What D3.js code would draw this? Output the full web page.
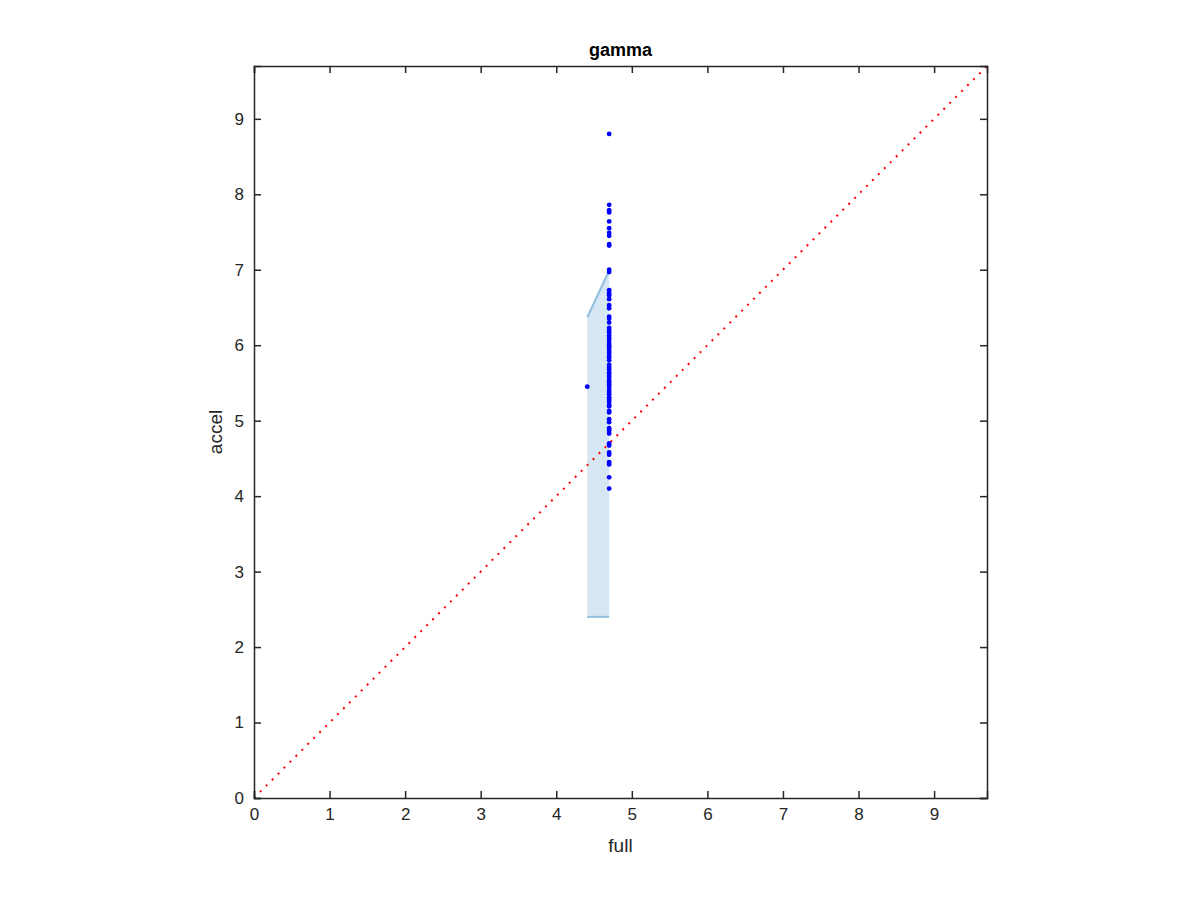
<!DOCTYPE html>
<html>
<head>
<meta charset="utf-8">
<script src="https://cdn.jsdelivr.net/npm/d3@7"></script>
<style>
  body { margin: 0; background: #fff; }
  svg { display: block; }
  text { font-family: "Liberation Sans", Helvetica, Arial, sans-serif; fill: #262626; }
</style>
</head>
<body>
<svg id="chart" width="1200" height="900"></svg>
<script>
// ---- data ----
const title = "gamma";
const xLabel = "full";
const yLabel = "accel";
const axisMax = 9.7;
const xTicks = [0, 1, 2, 3, 4, 5, 6, 7, 8, 9];
const yTicks = [0, 1, 2, 3, 4, 5, 6, 7, 8, 9];

// band (patch): x positions and lower/upper bounds
const bandX = [4.41, 4.70];
const bandLow = [2.40, 2.40];
const bandHigh = [6.37, 6.99];

// scatter points
const outlierX = [4.41];
const outlierY = [5.45];
const columnX = 4.70;
const columnY = [8.80, 7.86, 7.79, 7.76, 7.64, 7.55, 7.49, 7.45, 7.34, 7.32, 7.00, 6.97,
  6.73, 6.69, 6.66, 6.61, 6.53, 6.49, 6.38, 6.35, 6.30, 6.23, 6.20, 6.17, 6.13, 6.10,
  6.07, 6.03, 6.00, 5.97, 5.93, 5.90, 5.87, 5.84, 5.80, 5.74, 5.71, 5.68, 5.64, 5.61,
  5.58, 5.54, 5.51, 5.48, 5.45, 5.41, 5.38, 5.35, 5.31, 5.28, 5.25, 5.21, 5.19, 5.13,
  5.11, 5.02, 4.98, 4.90, 4.87, 4.83, 4.70, 4.67, 4.58, 4.55, 4.45, 4.42, 4.25, 4.10];

// ---- layout ----
const L = 254, R = 987, T = 66, B = 798;
const svg = d3.select("#chart");
const x = d3.scaleLinear().domain([0, axisMax]).range([L, R]);
const y = d3.scaleLinear().domain([0, axisMax]).range([B, T]);
const axisColor = "#262626";

// band fill
const bandData = bandX.map((v, i) => ({ x: v, lo: bandLow[i], hi: bandHigh[i] }));
svg.append("path")
  .datum(bandData)
  .attr("d", d3.area().x(d => x(d.x)).y0(d => y(d.lo)).y1(d => y(d.hi)))
  .attr("fill", "#d6e6f2")
  .attr("stroke", "none");
const edgeLine = (acc) => d3.line().x(d => x(d.x)).y(d => y(acc(d)));
svg.append("path").datum(bandData).attr("d", edgeLine(d => d.hi))
  .attr("fill", "none").attr("stroke", "#92c0df").attr("stroke-width", 2);
svg.append("path").datum(bandData).attr("d", edgeLine(d => d.lo))
  .attr("fill", "none").attr("stroke", "#92c0df").attr("stroke-width", 2);

// diagonal reference
svg.append("line")
  .attr("x1", x(0)).attr("y1", y(0)).attr("x2", x(axisMax)).attr("y2", y(axisMax))
  .attr("stroke", "#ff0000").attr("stroke-width", 2)
  .attr("stroke-dasharray", "2,6.4");

// scatter
const pts = outlierX.map((v, i) => [v, outlierY[i]]).concat(columnY.map(v => [columnX, v]));
svg.append("g").selectAll("circle").data(pts).join("circle")
  .attr("cx", d => x(d[0])).attr("cy", d => y(d[1]))
  .attr("r", 2.4).attr("fill", "#0000ff");

// axes (box with inward ticks)
const tickLen = 7;
const gx = svg.append("g").attr("transform", `translate(0,${B})`)
  .call(d3.axisBottom(x).tickValues(xTicks).tickSize(-tickLen).tickPadding(10).tickFormat(d3.format("d")));
const gxTop = svg.append("g").attr("transform", `translate(0,${T})`)
  .call(d3.axisTop(x).tickValues(xTicks).tickSize(-tickLen).tickFormat(""));
const gy = svg.append("g").attr("transform", `translate(${L},0)`)
  .call(d3.axisLeft(y).tickValues(yTicks).tickSize(-tickLen).tickPadding(10).tickFormat(d3.format("d")));
const gyR = svg.append("g").attr("transform", `translate(${R},0)`)
  .call(d3.axisRight(y).tickValues(yTicks).tickSize(-tickLen).tickFormat(""));
[gx, gxTop, gy, gyR].forEach(g => {
  g.select(".domain").attr("stroke", axisColor).attr("stroke-width", 1.5);
  g.selectAll(".tick line").attr("stroke", axisColor).attr("stroke-width", 1.5);
  g.selectAll(".tick text").attr("fill", axisColor).style("font-size", "17px")
    .style("font-family", "'Liberation Sans', Helvetica, Arial, sans-serif");
});
gx.selectAll(".tick text").attr("dy", "0.71em");

// labels
svg.append("text").attr("x", (L + R) / 2).attr("y", 56)
  .attr("text-anchor", "middle").style("font-size", "18px").style("font-weight", "bold")
  .style("fill", "#000").text(title);
svg.append("text").attr("x", (L + R) / 2).attr("y", 852)
  .attr("text-anchor", "middle").style("font-size", "19px").text(xLabel);
svg.append("text").attr("transform", `translate(222,${(T + B) / 2}) rotate(-90)`)
  .attr("text-anchor", "middle").style("font-size", "19px").text(yLabel);
</script>
</body>
</html>
